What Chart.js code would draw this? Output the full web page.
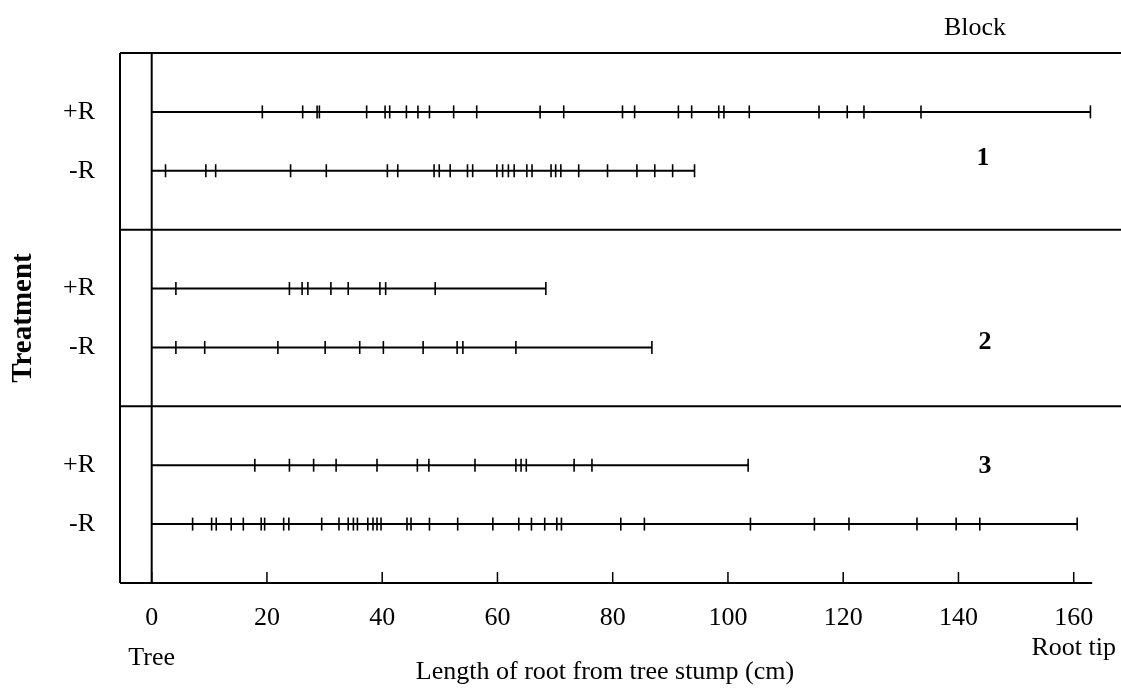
<!DOCTYPE html>
<html lang="en">

<head>
    <meta charset="UTF-8">
    <title>Root length from tree stump</title>
    <script src="https://cdn.jsdelivr.net/npm/chart.js"></script>
    <style>
        html, body { margin: 0; padding: 0; background: #fff; }
        .chart-container { position: relative; width: 1121px; height: 688px; }
    </style>
</head>

<body>
    <div class="chart-container">
        <canvas id="rootChart"></canvas>
    </div>
    <script>
        // Data (cm from tree stump, last value = root tip)
        const xTickValues = [0, 20, 40, 60, 80, 100, 120, 140, 160];
        const treatmentLabels = ['', '+R', '-R', '', '+R', '-R', '', '+R', '-R', ''];
        const blockNames = ['1', '2', '3'];

        const block1PlusR = [19.2, 26.2, 28.7, 29.1, 37.3, 40.5, 41.3, 44.2, 46.2, 48.2, 52.4, 56.4, 67.4, 71.5,
            81.7, 83.8, 91.4, 93.7, 98.4, 99.3, 103.7, 115.8, 120.7, 123.6, 133.5, 162.9];
        const block1MinusR = [2.4, 9.4, 11.1, 24.1, 30.3, 40.9, 42.7, 49.0, 49.9, 51.8, 54.8, 55.7, 59.9, 60.9,
            61.9, 62.9, 65.1, 66.0, 69.3, 70.1, 71.0, 74.1, 79.1, 84.2, 87.3, 90.4, 94.2];
        const block2PlusR = [4.2, 23.9, 26.1, 27.1, 31.1, 34.1, 39.6, 40.6, 49.2, 68.4];
        const block2MinusR = [4.2, 9.2, 21.9, 30.1, 36.1, 40.2, 47.1, 53.0, 54.0, 63.2, 86.8];
        const block3PlusR = [17.9, 23.9, 28.1, 32.0, 39.1, 46.1, 48.1, 56.1, 63.2, 64.1, 65.0, 73.3, 76.4, 103.5];
        const block3MinusR = [7.1, 10.4, 11.2, 13.8, 15.9, 19.0, 19.6, 22.9, 23.8, 29.5, 32.5, 34.1, 35.0, 35.7,
            37.5, 38.4, 39.1, 39.8, 44.3, 45.0, 48.2, 53.1, 59.2, 63.7, 65.9, 68.2, 70.3, 71.1, 81.4, 85.5,
            103.9, 115.0, 121.0, 132.8, 139.6, 143.7, 160.6];

        // which treatment row (index into treatmentLabels) each root sits on
        const rows = [
            { values: block1PlusR, row: 1 },
            { values: block1MinusR, row: 2 },
            { values: block2PlusR, row: 4 },
            { values: block2MinusR, row: 5 },
            { values: block3PlusR, row: 7 },
            { values: block3MinusR, row: 8 }
        ];

        const serif = '"Liberation Serif", "Times New Roman", serif';

        const datasets = [];
        rows.forEach(r => {
            // root line from the stump to the tip
            datasets.push({
                data: [{ x: 0, y: r.row }, { x: Math.max(...r.values), y: r.row }],
                showLine: true,
                borderColor: '#000',
                borderWidth: 2,
                pointRadius: 0
            });
            // marks along the root
            datasets.push({
                data: r.values.map(v => ({ x: v, y: r.row })),
                showLine: false,
                pointStyle: 'line',
                rotation: 90,
                pointRadius: 6.5,
                borderColor: '#000',
                borderWidth: 1.6
            });
        });

        // frame, separators, axis ticks and extra text
        const framePlugin = {
            id: 'frame',
            afterDatasetsDraw(chart) {
                const c = chart.ctx;
                const xs = chart.scales.x;
                const ys = chart.scales.y;
                const top = ys.getPixelForValue(0);
                const bottom = ys.getPixelForValue(9);
                const left = xs.left;
                const zero = xs.getPixelForValue(0);

                c.save();
                c.strokeStyle = '#000';
                c.lineWidth = 2;
                c.beginPath();
                // top line and block separators
                [0, 3, 6].forEach(i => {
                    const y = ys.getPixelForValue(i);
                    c.moveTo(left, y);
                    c.lineTo(chart.width, y);
                });
                // bottom axis
                c.moveTo(left, bottom);
                c.lineTo(xs.getPixelForValue(163.2), bottom);
                // left box edge and zero line
                c.moveTo(left, top);
                c.lineTo(left, bottom);
                c.moveTo(zero, top);
                c.lineTo(zero, bottom);
                c.stroke();

                // small upward ticks on the bottom axis
                c.lineWidth = 1.5;
                c.beginPath();
                xTickValues.forEach(v => {
                    const x = xs.getPixelForValue(v);
                    c.moveTo(x, bottom);
                    c.lineTo(x, bottom - 11);
                });
                c.stroke();

                c.fillStyle = '#000';
                c.textAlign = 'center';
                c.textBaseline = 'middle';
                c.font = '26px ' + serif;
                c.fillText('Block', 975, 28);
                c.fillText('Tree', zero, 658);
                c.fillText('Root tip', xs.getPixelForValue(160), 648);
                c.fillText('Length of root from tree stump (cm)', 605, 672);

                c.font = 'bold 26px ' + serif;
                c.fillText(blockNames[0], 983, 158);
                c.fillText(blockNames[1], 985, 342);
                c.fillText(blockNames[2], 985, 466);
                c.restore();
            }
        };

        const ctx = document.getElementById('rootChart').getContext('2d');
        const rootChart = new Chart(ctx, {
            type: 'scatter',
            data: { datasets: datasets },
            options: {
                responsive: true,
                maintainAspectRatio: false,
                animation: false,
                layout: { padding: { top: 53, right: 0, bottom: 0, left: 0 } },
                plugins: {
                    legend: { display: false },
                    tooltip: { enabled: false }
                },
                scales: {
                    x: {
                        type: 'linear',
                        min: -5.5,
                        max: 166.8,
                        afterBuildTicks: scale => {
                            scale.ticks = xTickValues.map(v => ({ value: v }));
                        },
                        afterFit: scale => { scale.height = 105; },
                        grid: { display: false, drawTicks: false },
                        border: { display: false },
                        ticks: {
                            color: '#000',
                            padding: 20,
                            font: { family: serif, size: 26 }
                        }
                    },
                    y: {
                        type: 'linear',
                        min: 0,
                        max: treatmentLabels.length - 1,
                        reverse: true,
                        afterBuildTicks: scale => {
                            scale.ticks = treatmentLabels.map((t, i) => ({ value: i }));
                        },
                        afterFit: scale => { scale.width = 120; },
                        grid: { display: false, drawTicks: false },
                        border: { display: false },
                        ticks: {
                            color: '#000',
                            padding: 25,
                            autoSkip: false,
                            font: { family: serif, size: 26 },
                            callback: value => treatmentLabels[value]
                        },
                        title: {
                            display: true,
                            text: 'Treatment',
                            color: '#000',
                            padding: { top: 6 },
                            font: { family: serif, size: 29, weight: 'bold' }
                        }
                    }
                }
            },
            plugins: [framePlugin]
        });
    </script>
</body>

</html>
